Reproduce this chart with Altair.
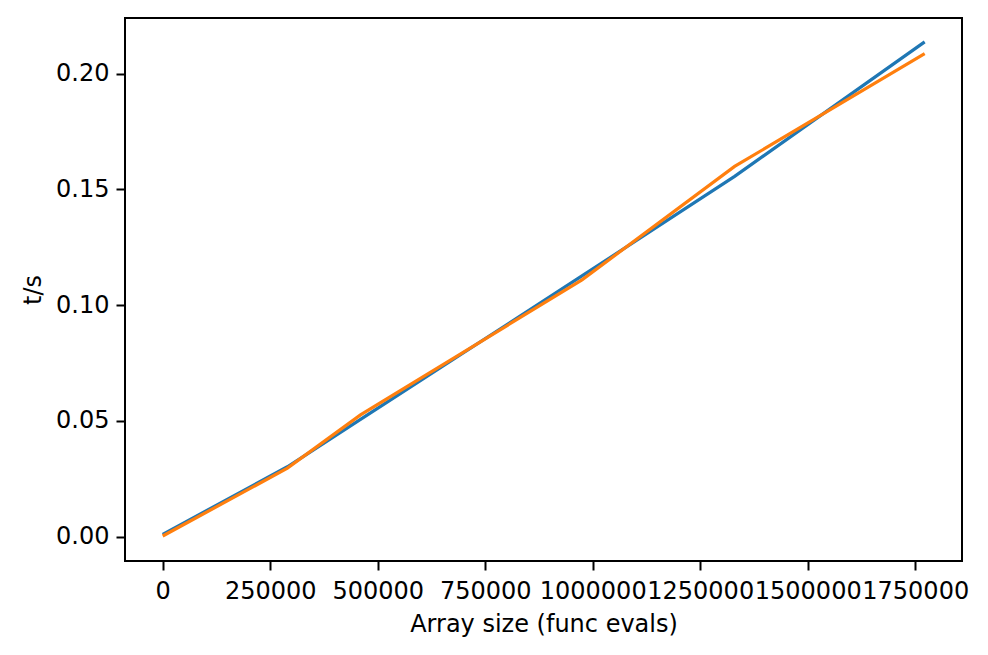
import altair as alt
import pandas as pd

# Array sizes (func evals) at which timings were taken
sizes = [0, 290000, 460000, 975000, 1330000, 1772000]
# Two timing series (seconds)
series_a = [0.0010, 0.0302, 0.0507, 0.1126, 0.1556, 0.2137]
series_b = [0.0003, 0.0296, 0.0526, 0.1109, 0.1599, 0.2086]
series_names = ["A", "B"]
colors = ["#1f77b4", "#ff7f0e"]

x_ticks = [0, 250000, 500000, 750000, 1000000, 1250000, 1500000, 1750000]
y_ticks = [0.00, 0.05, 0.10, 0.15, 0.20]

rows = []
for name, vals in zip(series_names, [series_a, series_b]):
    for i, (s, v) in enumerate(zip(sizes, vals)):
        rows.append({"n": s, "t": v, "series": name, "order": i})
df = pd.DataFrame(rows)

FONT = "DejaVu Sans"

chart = alt.Chart(df).mark_line(strokeWidth=3.2, clip=True).encode(
    x=alt.X(
        "n:Q",
        scale=alt.Scale(domain=[-87700, 1858800], nice=False, zero=False),
        axis=alt.Axis(
            values=x_ticks,
            format="d",
            title="Array size (func evals)",
            labelOverlap=False,
            labelFlush=False,
            labelBound=False,
            labelPadding=9,
            titlePadding=9,
        ),
    ),
    y=alt.Y(
        "t:Q",
        scale=alt.Scale(domain=[-0.0105, 0.2240], nice=False, zero=False),
        axis=alt.Axis(
            values=y_ticks,
            format=".2f",
            title="t/s",
            labelPadding=7,
            titlePadding=10,
        ),
    ),
    color=alt.Color(
        "series:N",
        scale=alt.Scale(domain=series_names, range=colors),
        legend=None,
    ),
    order="order:Q",
).properties(
    width=837,
    height=543,
    background="white",
    autosize=alt.AutoSizeParams(type="none"),
    padding={"left": 117, "top": 10, "right": 18, "bottom": 86},
).configure_view(
    stroke="black", strokeWidth=2
).configure_axis(
    grid=False,
    domain=False,
    tickColor="black",
    tickSize=9,
    tickWidth=2,
    labelFont=FONT,
    labelFontSize=24,
    labelColor="black",
    titleFont=FONT,
    titleFontSize=24,
    titleFontWeight="normal",
    titleColor="black",
)

chart.save("out.html", embed_options={"renderer": "svg", "actions": False})
